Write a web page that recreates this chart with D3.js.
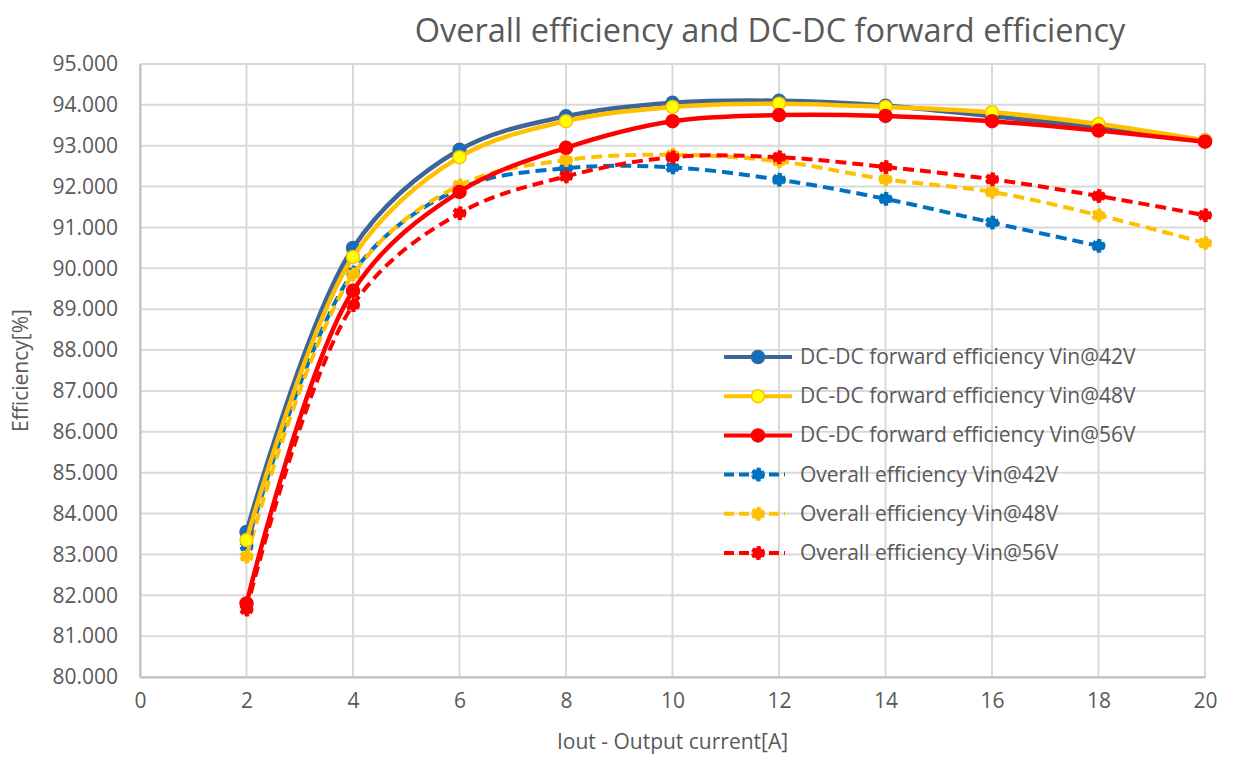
<!DOCTYPE html>
<html>
<head>
<meta charset="utf-8">
<script src="https://cdn.jsdelivr.net/npm/d3@7"></script>
<style>
body { margin: 0; background: #fff; }
text { font-family: "Open Sans", "DejaVu Sans", sans-serif; fill: #595959; }
</style>
</head>
<body>
<script>
// chart data
var current = [2, 4, 6, 8, 10, 12, 14, 16, 18, 20];
var dc42 = [83.55, 90.50, 92.90, 93.72, 94.05, 94.10, 93.98, 93.72, 93.45, 93.13];
var dc48 = [83.35, 90.28, 92.72, 93.60, 93.95, 94.03, 93.95, 93.82, 93.53, 93.13];
var dc56 = [81.80, 89.45, 91.87, 92.95, 93.60, 93.75, 93.73, 93.60, 93.37, 93.10];
var ov42 = [83.20, 89.90, 91.95, 92.45, 92.47, 92.17, 91.70, 91.12, 90.55, null];
var ov48 = [82.95, 89.85, 92.03, 92.65, 92.78, 92.62, 92.18, 91.87, 91.30, 90.62];
var ov56 = [81.65, 89.10, 91.35, 92.25, 92.72, 92.72, 92.48, 92.18, 91.77, 91.30];
var xTicks = [0, 2, 4, 6, 8, 10, 12, 14, 16, 18, 20];
var yTicks = [80, 81, 82, 83, 84, 85, 86, 87, 88, 89, 90, 91, 92, 93, 94, 95];

var series = [
  {name: "DC-DC forward efficiency Vin@42V", vals: dc42, line: "#3d6597", mark: "#0f6fc0", mstroke: "#3d6597", dash: null},
  {name: "DC-DC forward efficiency Vin@48V", vals: dc48, line: "#ffc000", mark: "#ffff00", mstroke: "#ffc000", dash: null},
  {name: "DC-DC forward efficiency Vin@56V", vals: dc56, line: "#ff0000", mark: "#ff0000", mstroke: "#ff0000", dash: null},
  {name: "Overall efficiency Vin@42V", vals: ov42, line: "#0070c0", mark: "#0070c0", mstroke: "#0070c0", dash: "11,6"},
  {name: "Overall efficiency Vin@48V", vals: ov48, line: "#ffc000", mark: "#ffc000", mstroke: "#ffc000", dash: "11,6"},
  {name: "Overall efficiency Vin@56V", vals: ov56, line: "#ff0000", mark: "#ff0000", mstroke: "#ff0000", dash: "11,6"}
];

var w = 1236, h = 758;
var pl = 140, pr = 1205, pt = 64, pb = 677; // plot area edges

var svg = d3.select("body").append("svg")
  .attr("width", w)
  .attr("height", h);

var x = d3.scaleLinear().domain([0, 20]).range([pl, pr]);
var y = d3.scaleLinear().domain([80, 95]).range([pb, pt]);

// gridlines
svg.append("g").selectAll("line")
  .data(yTicks)
  .enter().append("line")
  .attr("x1", pl).attr("x2", pr)
  .attr("y1", function(d) { return y(d); })
  .attr("y2", function(d) { return y(d); })
  .attr("stroke", "#d9d9d9").attr("stroke-width", 2);

svg.append("g").selectAll("line")
  .data(xTicks)
  .enter().append("line")
  .attr("x1", function(d) { return x(d); })
  .attr("x2", function(d) { return x(d); })
  .attr("y1", pt).attr("y2", pb)
  .attr("stroke", "#d9d9d9").attr("stroke-width", 2);

// axes
var yAxis = svg.append("g")
  .attr("transform", "translate(" + pl + ",0)")
  .call(d3.axisLeft(y).tickValues(yTicks).tickSize(0).tickPadding(22).tickFormat(d3.format(".3f")));
yAxis.select(".domain").attr("stroke", "#bfbfbf").attr("stroke-width", 2);
yAxis.selectAll("text").attr("font-size", "21px").attr("fill", "#595959")
  .style("font-family", "'Open Sans', sans-serif");

var xAxis = svg.append("g")
  .attr("transform", "translate(0," + pb + ")")
  .call(d3.axisBottom(x).tickValues(xTicks).tickSize(0).tickPadding(16).tickFormat(d3.format("d")));
xAxis.select(".domain").attr("stroke", "#bfbfbf").attr("stroke-width", 2);
xAxis.selectAll("text").attr("font-size", "21px").attr("fill", "#595959")
  .style("font-family", "'Open Sans', sans-serif");

// titles
svg.append("text")
  .attr("x", 770).attr("y", 42)
  .attr("text-anchor", "middle")
  .attr("font-size", "32.5px")
  .text("Overall efficiency and DC-DC forward efficiency");

svg.append("text")
  .attr("transform", "translate(28," + ((pt + pb) / 2) + ") rotate(-90)")
  .attr("text-anchor", "middle")
  .attr("font-size", "21px")
  .text("Efficiency[%]");

svg.append("text")
  .attr("x", (pl + pr) / 2).attr("y", 749)
  .attr("text-anchor", "middle")
  .attr("font-size", "21px")
  .text("Iout - Output current[A]");

// lines
var line = d3.line()
  .x(function(d) { return x(d[0]); })
  .y(function(d) { return y(d[1]); })
  .curve(d3.curveCatmullRom.alpha(0.5));

// draw dashed first, then solid on top
var order = [3, 4, 5, 0, 1, 2];
order.forEach(function(i) {
  var s = series[i];
  var pts = current.map(function(c, j) { return [c, s.vals[j]]; })
    .filter(function(p) { return p[1] !== null; });
  svg.append("path")
    .datum(pts)
    .attr("d", line)
    .attr("fill", "none")
    .attr("stroke", s.line)
    .attr("stroke-width", s.dash ? 4 : 4.5)
    .attr("stroke-dasharray", s.dash);
  svg.append("g").selectAll("circle")
    .data(pts)
    .enter().append("circle")
    .attr("cx", function(d) { return x(d[0]); })
    .attr("cy", function(d) { return y(d[1]); })
    .attr("r", s.dash ? 5.5 : 6.5)
    .attr("fill", s.mark)
    .attr("stroke", s.mstroke)
    .attr("stroke-width", s.dash ? 3 : 1.5)
    .attr("stroke-dasharray", s.dash ? "4,2" : null);
});

// legend
var lg = svg.append("g");
series.forEach(function(s, i) {
  var ly = 357 + i * 39.2;
  lg.append("line")
    .attr("x1", 724).attr("x2", s.dash ? 785 : 792)
    .attr("y1", ly).attr("y2", ly)
    .attr("stroke", s.line)
    .attr("stroke-width", 4)
    .attr("stroke-dasharray", s.dash ? "10,5" : null);
  lg.append("circle")
    .attr("cx", 758).attr("cy", ly)
    .attr("r", s.dash ? 5.5 : 6.5)
    .attr("fill", s.mark)
    .attr("stroke", s.mstroke)
    .attr("stroke-width", s.dash ? 3 : 1.5)
    .attr("stroke-dasharray", s.dash ? "4,2" : null);
  lg.append("text")
    .attr("x", 800).attr("y", ly + 7)
    .attr("font-size", "21px")
    .text(s.name);
});
</script>
</body>
</html>
